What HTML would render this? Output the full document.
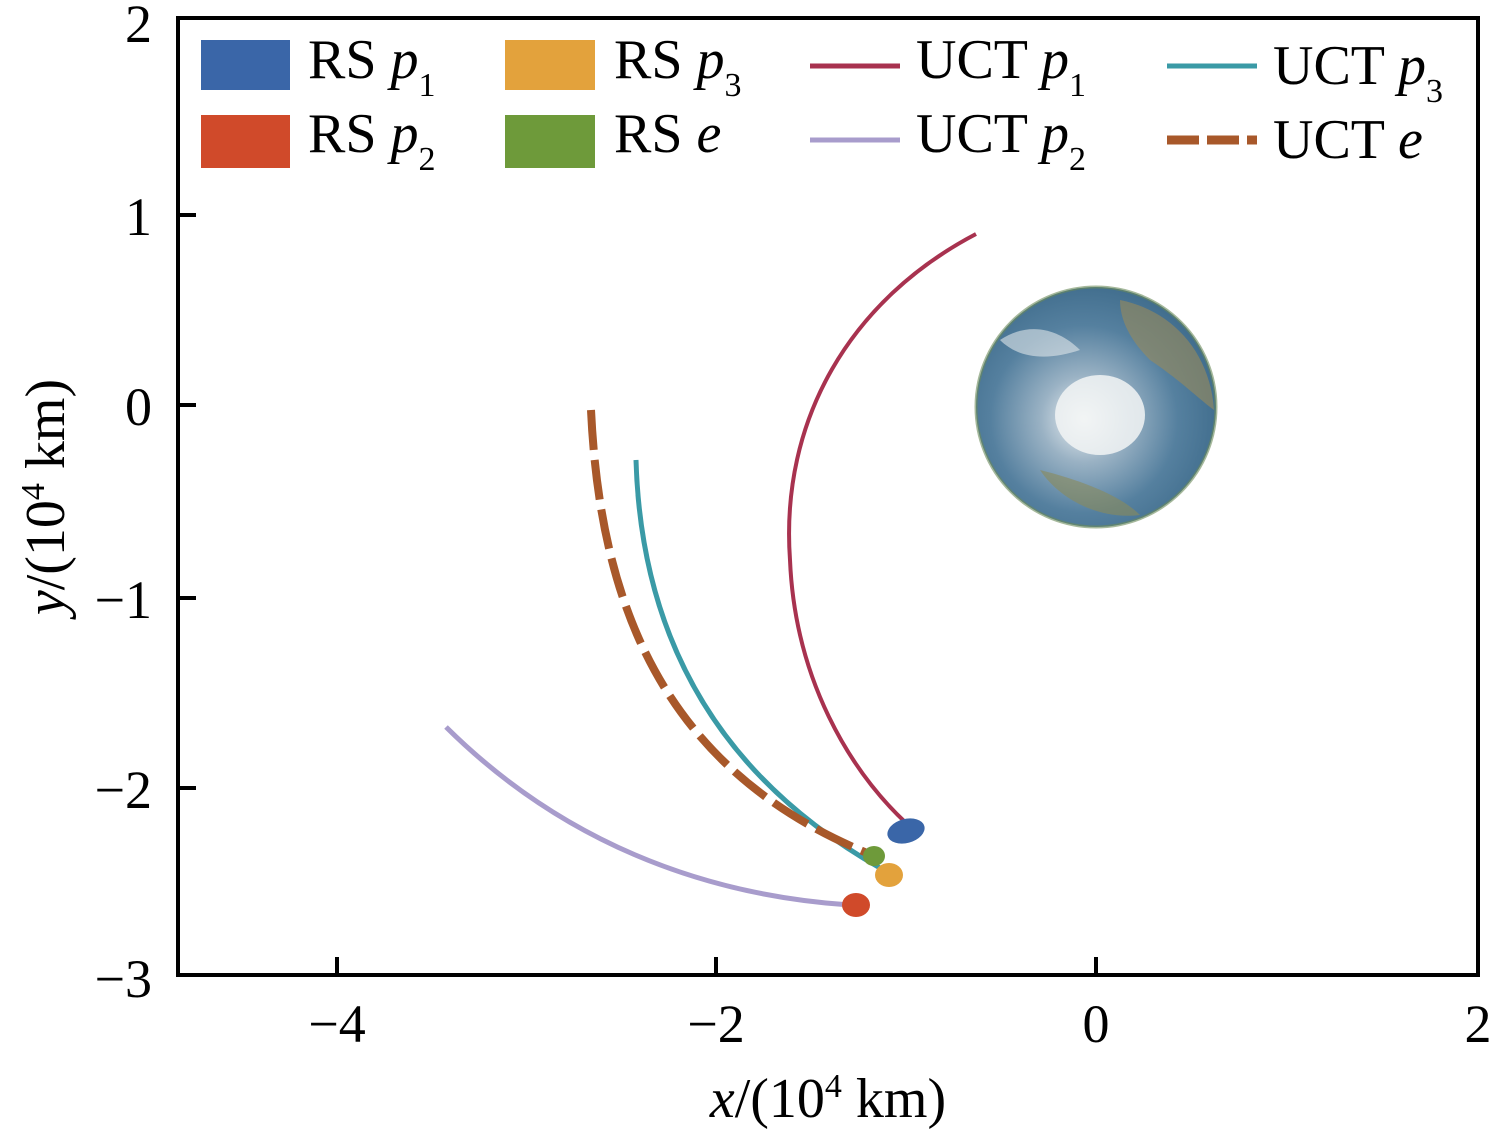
<!DOCTYPE html>
<html><head><meta charset="utf-8"><style>html,body{margin:0;padding:0;background:#fff}</style></head>
<body>
<svg width="1502" height="1138" viewBox="0 0 1502 1138" xmlns="http://www.w3.org/2000/svg" font-family="Liberation Serif, serif">
<defs>
<radialGradient id="eg" cx="0.45" cy="0.55" r="0.6">
<stop offset="0" stop-color="#eef2f4"/><stop offset="0.3" stop-color="#9ab2c4"/><stop offset="0.65" stop-color="#55809f"/><stop offset="1" stop-color="#3d6a8a"/></radialGradient>
</defs>
<rect x="178" y="18" width="1300" height="957" fill="none" stroke="#000" stroke-width="4"/>
<g stroke="#000" stroke-width="4">
<line x1="178" y1="215" x2="196" y2="215"/><line x1="178" y1="405" x2="196" y2="405"/><line x1="178" y1="598" x2="196" y2="598"/><line x1="178" y1="788" x2="196" y2="788"/>
<line x1="337" y1="975" x2="337" y2="957"/><line x1="716" y1="975" x2="716" y2="957"/><line x1="1096" y1="975" x2="1096" y2="957"/>
</g>
<g font-size="54" text-anchor="end">
<text x="152" y="42">2</text><text x="152" y="235">1</text><text x="152" y="425">0</text><text x="152" y="618">−1</text><text x="152" y="808">−2</text><text x="152" y="997">−3</text>
</g>
<g font-size="54" text-anchor="middle">
<text x="337" y="1042">−4</text><text x="716" y="1042">−2</text><text x="1096" y="1042">0</text><text x="1478" y="1042">2</text>
</g>
<text x="828" y="1117" font-size="56" text-anchor="middle"><tspan font-style="italic">x</tspan>/(10<tspan font-size="34" dy="-20">4</tspan><tspan dy="20"> km)</tspan></text>
<text transform="translate(64,497) rotate(-90)" font-size="56" text-anchor="middle"><tspan font-style="italic">y</tspan>/(10<tspan font-size="34" dy="-20">4</tspan><tspan dy="20"> km)</tspan></text>
<!-- Earth -->
<circle cx="1096" cy="407" r="120" fill="url(#eg)"/>
<ellipse cx="1100" cy="415" rx="45" ry="40" fill="#f2f4f5" opacity="0.85"/>
<path d="M1120,300 C1170,310 1210,350 1214,410 C1200,400 1180,380 1150,360 C1130,340 1120,320 1120,300Z" fill="#9a8a5a" opacity="0.6"/>
<path d="M1040,470 C1060,500 1100,520 1140,515 C1120,495 1080,480 1040,470Z" fill="#8a8a5a" opacity="0.6"/>
<path d="M1000,340 C1030,320 1060,330 1080,350 C1050,360 1020,360 1000,340Z" fill="#dfe6ea" opacity="0.6"/>
<circle cx="1096" cy="407" r="120" fill="none" stroke="#6a8a5a" stroke-width="3" opacity="0.6"/>
<!-- curves -->
<path d="M976,234 C850,300 780,420 790,560 C795,680 850,770 905,822" fill="none" stroke="#a8324f" stroke-width="4"/>
<path d="M446,727 C560,840 700,895 850,905" fill="none" stroke="#a89ccc" stroke-width="5"/>
<path d="M636,460 C640,600 690,760 880,868" fill="none" stroke="#3a9aa6" stroke-width="5"/>
<path d="M591,410 C600,600 660,770 872,855" fill="none" stroke="#a8582a" stroke-width="8" stroke-dasharray="40,10"/>
<ellipse cx="906" cy="831" rx="19" ry="12" fill="#3a66a8" transform="rotate(-15 906 831)"/>
<ellipse cx="889" cy="875" rx="14" ry="12" fill="#e3a23c"/>
<ellipse cx="874" cy="856" rx="11" ry="10" fill="#6e9a3a"/>
<ellipse cx="856" cy="905" rx="14" ry="12" fill="#d04a2a"/>
<!-- legend -->
<rect x="201" y="40" width="89" height="50" fill="#3a66a8"/>
<rect x="201" y="115" width="89" height="53" fill="#d04a2a"/>
<rect x="505" y="40" width="90" height="50" fill="#e3a23c"/>
<rect x="505" y="115" width="90" height="53" fill="#6e9a3a"/>
<line x1="810" y1="66" x2="900" y2="66" stroke="#a8324f" stroke-width="5"/>
<line x1="810" y1="140" x2="900" y2="140" stroke="#a89ccc" stroke-width="5"/>
<line x1="1167" y1="66" x2="1257" y2="66" stroke="#3a9aa6" stroke-width="5"/>
<line x1="1167" y1="140" x2="1257" y2="140" stroke="#a8582a" stroke-width="9" stroke-dasharray="32,8"/>
<g font-size="56">
<text x="308" y="78">RS <tspan font-style="italic">p</tspan><tspan font-size="34" dy="18">1</tspan></text>
<text x="308" y="152">RS <tspan font-style="italic">p</tspan><tspan font-size="34" dy="18">2</tspan></text>
<text x="614" y="78">RS <tspan font-style="italic">p</tspan><tspan font-size="34" dy="18">3</tspan></text>
<text x="614" y="152">RS <tspan font-style="italic">e</tspan></text>
<text x="916" y="78">UCT <tspan font-style="italic">p</tspan><tspan font-size="34" dy="18">1</tspan></text>
<text x="916" y="152">UCT <tspan font-style="italic">p</tspan><tspan font-size="34" dy="18">2</tspan></text>
<text x="1273" y="84">UCT <tspan font-style="italic">p</tspan><tspan font-size="34" dy="18">3</tspan></text>
<text x="1273" y="158">UCT <tspan font-style="italic">e</tspan></text>
</g>
</svg>
</body></html>
